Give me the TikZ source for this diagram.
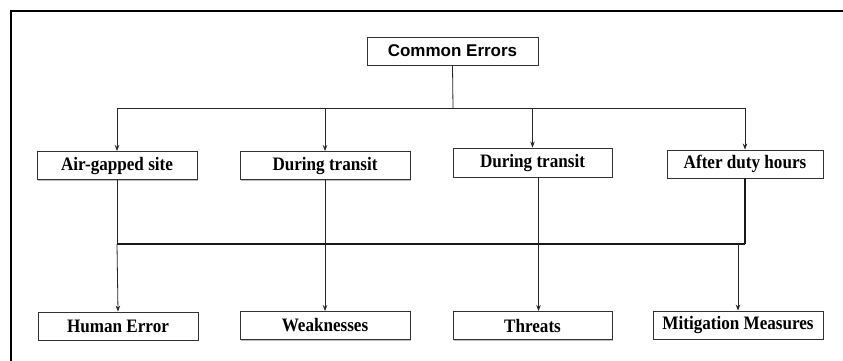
\documentclass[tikz,border=0pt]{standalone}
\usepackage{fontspec}
\setmainfont{Liberation Serif}
\newfontfamily\headfont{Liberation Sans}
\newfontfamily\labelfont[FakeStretch=0.9]{Liberation Serif}
\usetikzlibrary{arrows.meta,shadows}

\begin{document}
\begin{tikzpicture}[x=1pt,y=-1pt,
  box/.style={draw=black!80, line width=0.9pt, fill=white, inner sep=0pt,
    minimum height=28pt,
    font=\labelfont\bfseries\fontsize{19}{19}\selectfont,
    drop shadow={shadow xshift=1.2pt, shadow yshift=-1.2pt, opacity=0.5, fill=black!50}},
  topbox/.style={box, minimum width=171pt,
    font=\headfont\bfseries\fontsize{17}{17}\selectfont},
  wire/.style={line width=0.8pt, draw=black!85},
  busline/.style={line width=1.6pt, draw=black!90},
  arr/.style={wire, -{Stealth[length=6pt,width=4.5pt]}}]

  % page area and outer frame
  \useasboundingbox (0,0) rectangle (843,360);
  \clip (0,0) rectangle (843,360);
  \fill[white] (0,0) rectangle (843,360);
  \draw[line width=2.2pt] (11,11) rectangle (860,380);

  % root
  \node[topbox] (ce) at (452.5,51) {Common Errors};

  % second row
  \node[box, minimum width=160pt] (air)    at (117,165.5)   {Air-gapped site};
  \node[box, minimum width=170pt] (transA) at (325,165.5)   {During transit};
  \node[box, minimum width=159pt, minimum height=29pt] (transB) at (532.5,162.5) {During transit};
  \node[box, minimum width=156pt] (after)  at (745,164)     {After duty hours};

  % third row
  \node[box, minimum width=160pt] (human)  at (118,326)     {Human Error};
  \node[box, minimum width=170pt] (weak)   at (325,325.5)   {Weaknesses};
  \node[box, minimum width=159pt] (threat) at (532.5,325.5) {Threats};
  \node[box, minimum width=170pt] (mitig)  at (738,325)     {Mitigation Measures};

  % split from the root to the second row
  \coordinate (tsplit) at (453,108);
  \draw[wire] (ce.south) -- (tsplit);
  \draw[wire] (tsplit -| air.north) -- (tsplit -| after.north);
  \draw[arr] (tsplit -| air.north)    -- (air.north);
  \draw[arr] (tsplit -| transA.north) -- (transA.north);
  \draw[arr] (tsplit -| transB.north) -- (transB.north);
  \draw[arr] (tsplit -| after.north)  -- (after.north);

  % gathering bus between the second and third rows
  \coordinate (bus) at (453,244);
  \draw[wire] (air.south)    -- (air.south |- bus);
  \draw[wire] (transA.south) -- (transA.south |- bus);
  \draw[wire] ([xshift=6pt]transB.south) -- ([xshift=6pt]transB.south |- bus);
  \draw[busline] (after.south) -- (after.south |- bus);
  \draw[busline] (air.south |- bus) -- (after.south |- bus);

  % bus to the third row
  \draw[arr] (air.south |- bus)    -- (human.north);
  \draw[arr] (transA.south |- bus) -- (weak.north);
  \draw[arr] ([xshift=6pt]threat.north |- bus) -- ([xshift=6pt]threat.north);
  \draw[arr] (mitig.north |- bus)  -- (mitig.north);
\end{tikzpicture}
\end{document}
